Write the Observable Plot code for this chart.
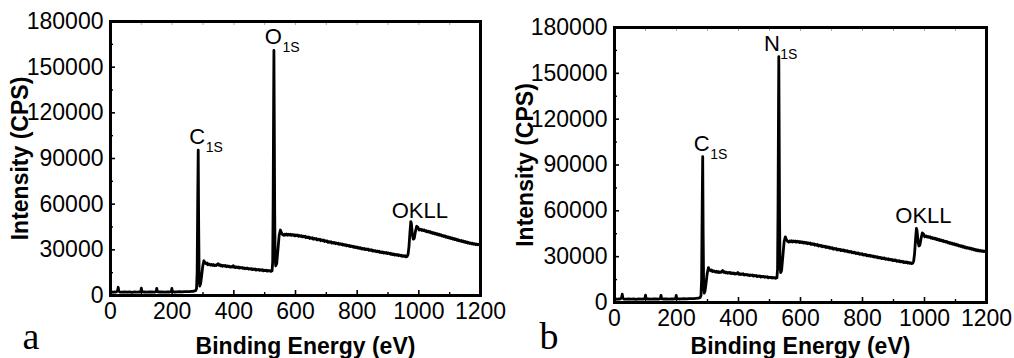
<!DOCTYPE html>
<html><head><meta charset="utf-8">
<script src="https://cdn.jsdelivr.net/npm/d3@7"></script>
<script src="https://cdn.jsdelivr.net/npm/@observablehq/plot@0.6"></script>
<style>
body{margin:0;background:#fff;width:1014px;height:358px;overflow:hidden;position:relative;font-family:"Liberation Sans",Arial,sans-serif}
#a,#b{position:absolute;top:0;width:514px;height:358px}
#a{left:0}
#b{left:500px}
</style></head><body>
<div id="a"></div><div id="b"></div>
<script>
// XPS survey spectrum: [binding energy (eV), intensity (CPS)]
const spectrum = [
[0,1800],[4,2400],[8,2100],[12,2300],[16,2200],[20,2500],[23,3200],[25,5400],[27,2800],[30,2300],
[38,2200],[46,2400],[54,2200],[62,2300],[70,2100],[78,2400],[86,2200],[94,2300],[98,2500],[100,4800],
[102,2400],[110,2300],[118,2200],[126,2400],[134,2300],[142,2200],[148,2500],[150,4700],[152,2400],[160,2300],
[168,2400],[176,2200],[184,2400],[192,2300],[197,2500],[199,4600],[201,2500],[208,2300],[216,2400],[224,2500],
[232,2400],[240,2600],[248,2500],[256,2600],[264,2700],[270,2800],[276,3200],[279,4500],
[281,15000],[283,65000],[284.5,95500],[286,45000],[287.5,12000],[289.5,6200],[292,7500],[295,12000],[299,19000],[303,22800],[306,21600],
[310,20800],[313,21300],[316,20200],[319,20700],[322,20500],[325,19900],[328,20400],[331,19800],[334,20300],[337,19600],[340,20000],[343,19700],[346,20300],[349,20900],[352,19800],[355,20200],[358,19500],
[361,19900],[364,19200],[367,19700],[370,19300],[373,19700],[376,18900],[379,19400],[382,19000],[385,19300],[388,18600],[391,19000],[394,18700],[398,19600],[401,18500],[404,18900],[406,18300],[409,18700],[412,18400],
[415,18800],[418,18000],[421,18400],[424,18100],[427,18400],[430,17800],[433,18100],[436,17600],[439,18000],[442,17700],[445,18000],[448,17300],[451,17700],[454,17400],[457,17700],[460,17000],[463,17400],[466,17100],[469,17400],[472,16700],
[475,17100],[478,16800],[481,17100],[484,16500],[487,16900],[490,16600],[493,16900],[496,16200],[499,16600],[502,16300],[505,16600],[508,16000],[511,16400],[514,16100],[517,16300],[520,15800],[524,16200],
[526,22000],[527.5,60000],[529,125000],[530,161000],[531,120000],[532.5,55000],[534,24000],[536,19500],[539,21000],[543,30000],
[547,39500],[551,43000],[554,41500],[558,40000],[562,39500],
[565,40300],[568,39800],[571,40400],[574,39600],[577,40200],[580,39700],[583,40300],[586,39500],[589,40100],[592,39600],[595,40000],[598,39200],[601,39800],[604,39300],[607,39700],[610,38900],[613,39400],[616,38900],[619,39300],[622,38500],
[625,39000],[628,38500],[631,38900],[634,38000],[637,38500],[640,38000],[643,38400],[646,37500],[649,38000],[652,37500],[655,37900],[658,37000],[661,37500],[664,37000],[667,37400],[670,36500],[673,37000],[676,36500],[679,36900],[682,36000],
[685,36500],[688,36000],[691,36400],[694,35500],[697,36000],[700,35400],[703,35800],[706,34900],[709,35400],[712,34900],[715,35300],[718,34400],[721,34900],[724,34400],[727,34800],[730,34000],[733,34500],[736,34000],[739,34400],[742,33600],
[745,34000],[748,33500],[751,33900],[754,33100],[757,33500],[760,33000],[763,33400],[766,32600],[769,33000],[772,32500],[775,32900],[778,32100],[781,32500],[784,32000],[787,32400],[790,31600],[793,32000],[796,31500],[799,31900],[802,31100],
[805,31500],[808,31000],[811,31400],[814,30600],[817,31000],[820,30500],[823,30900],[826,30200],[829,30600],[832,30100],[835,30500],[838,29700],[841,30100],[844,29600],[847,30000],[850,29200],[853,29600],[856,29100],[859,29500],[862,28800],
[865,29200],[868,28700],[871,29100],[874,28300],[877,28700],[880,28200],[883,28600],[886,27900],[889,28300],[892,27800],[895,28200],[898,27500],[901,27900],[904,27400],[907,27800],[910,27000],[913,27400],[916,26900],[919,27300],[922,26600],
[925,27000],[928,26500],[931,26900],[934,26200],[937,26600],[940,26100],[943,26500],[946,25800],[949,26200],[952,25700],[955,26100],[958,25400],[962,25700],
[965,27000],[968,32000],[971,41000],[974,48500],[976,47000],[979,40000],[982,37000],[985,37500],[989,42000],[993,45500],
[997,44800],[1001,43000],[1006,43500],[1009,42800],[1012,43200],
[1015,42600],[1018,43000],[1021,42200],[1024,42600],[1027,41900],[1030,42300],[1033,41600],[1036,42000],[1039,41200],[1042,41600],[1045,40900],[1048,41300],[1051,40500],[1054,40900],[1057,40200],[1060,40600],[1063,39800],[1066,40200],[1069,39500],[1072,39900],
[1075,39100],[1078,39500],[1081,38800],[1084,39200],[1087,38400],[1090,38800],[1093,38100],[1096,38500],[1099,37700],[1102,38100],[1105,37400],[1108,37800],[1111,37000],[1114,37400],[1117,36700],[1120,37100],[1123,36300],[1126,36800],[1129,36000],[1132,36400],
[1135,35700],[1138,36100],[1141,35400],[1144,35800],[1147,35100],[1150,35500],[1153,34800],[1156,35200],[1159,34500],[1162,34900],[1165,34200],[1168,34600],[1171,33900],[1174,34400],[1177,33700],[1180,34100],[1183,33500],[1186,33900],[1189,33300],[1192,33700],
[1196,33300],[1200,33600]
];
const xTicks = [0, 200, 400, 600, 800, 1000, 1200];
const xMinor = [100, 300, 500, 700, 900, 1100];
const yTicks = [0, 30000, 60000, 90000, 120000, 150000, 180000];
const yMinor = [15000, 45000, 75000, 105000, 135000, 165000];
const xTitle = "Binding Energy (eV)";
const yTitle = "Intensity (CPS)";
const peakNamesA = ["C", "O"];
const peakNamesB = ["C", "N"];
const peakSub = ["1S", "1S"];
const peakEnergy = [284.5, 530];
const peakHeight = [95500, 161000];
const augerName = "OKLL";
const augerEnergy = 974;
const augerHeight = 48500;

const data = spectrum.map(([e, v]) => ({e, v}));
const fmt = d3.format("d");

function panel(cfg) {
  const peaks = cfg.names.map((n, i) => ({main: n, sub: peakSub[i], e: peakEnergy[i], v: peakHeight[i], dx: cfg.peakDx[i]}));
  const marks = [
    Plot.line(data, {x: "e", y: "v", stroke: "black", strokeWidth: 2.8, strokeLinejoin: "round"}),
    Plot.axisX({ticks: xTicks, anchor: "bottom", tickSize: -5, strokeWidth: 1.6, tickFormat: () => ""}),
    Plot.axisX({ticks: xMinor, anchor: "bottom", tickSize: -3, strokeWidth: 1.4, tickFormat: () => ""}),
    Plot.axisX({ticks: xTicks.concat(xMinor), anchor: "top", tickSize: -3, strokeWidth: 1, stroke: "#aaa", tickFormat: () => ""}),
    Plot.axisY({ticks: yTicks, anchor: "left", tickSize: -5, strokeWidth: 1.6, tickFormat: () => ""}),
    Plot.axisY({ticks: yMinor, anchor: "left", tickSize: -3, strokeWidth: 1.4, tickFormat: () => ""}),
    Plot.axisX({ticks: xTicks, anchor: "bottom", tickSize: 0, tickPadding: 7, fontSize: 23, tickFormat: fmt}),
    Plot.axisY({ticks: yTicks, anchor: "left", tickSize: 0, tickPadding: 7, fontSize: 23, tickFormat: fmt}),
    Plot.frame({stroke: "black", strokeWidth: 3}),
    Plot.text([xTitle], {frameAnchor: "bottom", dx: cfg.xTitleDx, dy: cfg.xTitleDy, lineAnchor: "bottom", fontWeight: "bold", fontSize: 23}),
    Plot.text([yTitle], {frameAnchor: "left", rotate: -90, dx: cfg.yTitleDx, lineAnchor: "bottom", textAnchor: "middle", fontWeight: "bold", fontSize: 23}),
    Plot.text([cfg.letter], {frameAnchor: "bottom-left", dx: cfg.letterDx, dy: cfg.letterDy, textAnchor: "start", lineAnchor: "bottom", fontFamily: "'Liberation Serif', 'Times New Roman', serif", fontSize: 38}),
    Plot.text([augerName], {x: () => augerEnergy, y: () => augerHeight, dx: cfg.augerDx, dy: cfg.augerDy, textAnchor: "middle", lineAnchor: "bottom", fontSize: 22})
  ];
  peaks.forEach(p => {
    marks.push(Plot.text([p], {x: "e", y: "v", text: "main", textAnchor: "end", lineAnchor: "bottom", dx: p.dx, dy: -6, fontSize: 22}));
    marks.push(Plot.text([p], {x: "e", y: "v", text: "sub", textAnchor: "start", lineAnchor: "bottom", dx: p.dx + 0.5, dy: 2, fontSize: 14}));
  });
  return Plot.plot({
    width: 514, height: 358,
    marginLeft: cfg.ml, marginRight: cfg.mr, marginTop: cfg.mt, marginBottom: cfg.mb,
    style: {fontFamily: "'Liberation Sans', Arial, sans-serif", background: "transparent", overflow: "visible", color: "black"},
    x: {domain: [0, 1200], label: null},
    y: {domain: [0, 180000], label: null},
    marks
  });
}

document.getElementById("a").append(panel({
  ml: 110, mr: 34, mt: 21, mb: 63, names: peakNamesA, peakDx: [7, 8],
  xTitleDx: 10, xTitleDy: 58, yTitleDx: -83, letter: "a", letterDx: -88, letterDy: 53,
  augerDx: 9, augerDy: -4
}));
document.getElementById("b").append(panel({
  ml: 114, mr: 28, mt: 27, mb: 56, names: peakNamesB, peakDx: [7, 1],
  xTitleDx: 0, xTitleDy: 51, yTitleDx: -82, letter: "b", letterDx: -75, letterDy: 46,
  augerDx: 7, augerDy: -5
}));
</script>
</body></html>
